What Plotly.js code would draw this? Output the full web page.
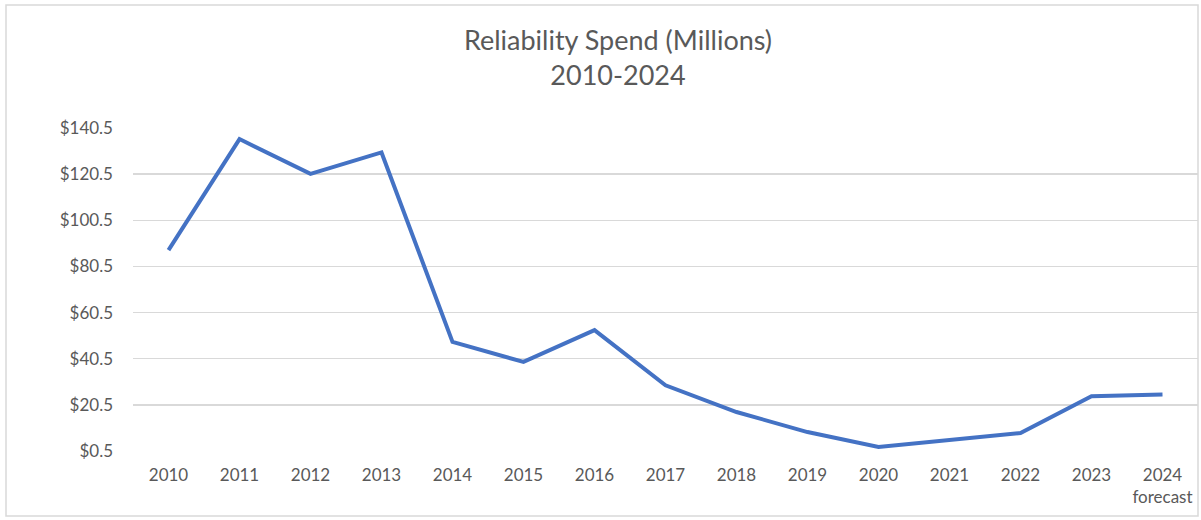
<!DOCTYPE html>
<html>
<head>
<meta charset="utf-8">
<script src="https://cdn.plot.ly/plotly-3.0.1.min.js"></script>
<style>
  html, body { margin: 0; padding: 0; background: #fff; }
  #chart { width: 1201px; height: 520px; }
</style>
</head>
<body>
<div id="chart"></div>
<script>
const years = ["2010","2011","2012","2013","2014","2015","2016","2017","2018","2019","2020","2021","2022","2023","2024"];
const tickLabels = ["2010","2011","2012","2013","2014","2015","2016","2017","2018","2019","2020","2021","2022","2023","2024<br>forecast"];
const spend = [87.6, 135.7, 120.6, 129.9, 47.8, 39.1, 52.9, 29.0, 17.4, 8.7, 2.2, 5.1, 8.3, 24.2, 25.0];
const yTicks = [0.5, 20.5, 40.5, 60.5, 80.5, 100.5, 120.5, 140.5];

const L = 133, R = 3, T = 128, B = 69, W = 1201, H = 520;
const pw = W - L - R, ph = H - T - B;
const px = v => (v - L) / pw;
const py = v => (H - B - v) / ph;

const trace = {
  x: years,
  y: spend,
  type: 'scatter',
  mode: 'lines',
  line: { color: '#4472C4', width: 4 },
  hoverinfo: 'x+y'
};

const layout = {
  width: W, height: H,
  margin: { l: L, r: R, t: T, b: B },
  paper_bgcolor: '#ffffff',
  plot_bgcolor: '#ffffff',
  showlegend: false,
  font: { family: 'Lato, "Open Sans", sans-serif', color: '#595959', size: 16 },
  title: {
    text: 'Reliability Spend (Millions)<br>2010-2024',
    font: { family: 'Lato, sans-serif', size: 27, color: '#595959' },
    x: px(618), xanchor: 'center', xref: 'paper',
    y: 1 - 50 / 520, yanchor: 'top', yref: 'container'
  },
  xaxis: {
    type: 'category',
    categoryorder: 'array',
    categoryarray: years,
    tickvals: years,
    ticktext: tickLabels,
    showgrid: false,
    showline: false,
    zeroline: false,
    ticks: '',
    ticklabelstandoff: 12,
    tickfont: { size: 17, color: '#595959' },
    range: [-0.5, years.length - 0.5]
  },
  yaxis: {
    range: [0.5, 140.5],
    tickvals: yTicks,
    ticktext: yTicks.map(v => '$' + v.toFixed(1)),
    showgrid: true,
    gridcolor: '#d9d9d9',
    gridwidth: 1.5,
    zeroline: false,
    showline: false,
    ticks: '',
    ticklen: 0,
    ticklabelstandoff: 19,
    tickfont: { size: 17, color: '#595959' },
    automargin: false
  },
  shapes: [{
    type: 'rect', xref: 'paper', yref: 'paper',
    x0: px(6), x1: px(1198), y0: py(516), y1: py(5),
    line: { color: '#d9d9d9', width: 1.5 },
    fillcolor: 'rgba(0,0,0,0)',
    layer: 'below'
  }]
};

Plotly.newPlot('chart', [trace], layout, { displayModeBar: false, staticPlot: true });
</script>
</body>
</html>
